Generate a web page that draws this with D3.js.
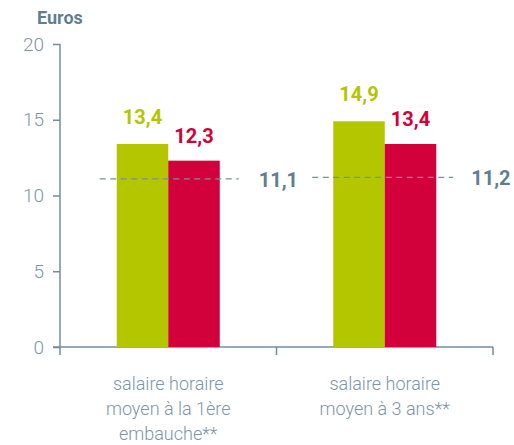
<!DOCTYPE html>
<html>
<head>
<meta charset="utf-8">
<script src="https://cdn.jsdelivr.net/npm/d3@7"></script>
<style>
  body { margin: 0; background: #fff; }
  svg text { font-family: "Roboto", "Liberation Sans", sans-serif; }
</style>
</head>
<body>
<div id="chart"></div>
<script>
// chart values
var categories = ['salaire horaire moyen à la 1ère embauche**', 'salaire horaire moyen à 3 ans**'];
var catLines = [['salaire horaire', 'moyen à la 1ère', 'embauche**'], ['salaire horaire', 'moyen à 3 ans**']];
var series = ['s1', 's2'];
var valuesGreen = [13.4, 14.9];
var valuesRed = [12.3, 13.4];
var refValues = [11.1, 11.2];
var yTicks = [0, 5, 10, 15, 20];

var width = 514,
    height = 445,
    axisColor = '#6f8fa0',
    green = '#b3c600',
    red = '#d2003b';

var svg = d3.select('#chart').append('svg')
  .attr('width', width)
  .attr('height', height);

var x = d3.scaleBand().domain(categories).range([60, 493]).paddingInner(0).paddingOuter(0);
var xs = d3.scaleBand().domain(series).range([0, 103]);
var y = d3.scaleLinear().domain([0, 20]).range([347, 44]);

var fmt = (v) => String(v).replace('.', ',');

// y axis
var yAxis = svg.append('g').attr('transform', 'translate(60,0)')
  .call(d3.axisLeft(y).tickValues(yTicks).tickSize(7).tickPadding(9));
yAxis.select('.domain').remove();
yAxis.selectAll('line').attr('stroke', axisColor).attr('stroke-width', 1.5);
yAxis.selectAll('text').attr('fill', '#7b96a6').attr('font-size', 19).attr('font-weight', 300)
  .attr('text-anchor', 'end').attr('dx', 0);
svg.append('line').attr('x1', 60).attr('x2', 60).attr('y1', y(20)).attr('y2', y(0))
  .attr('stroke', axisColor).attr('stroke-width', 1.5);

// x axis
svg.append('line').attr('x1', 53).attr('x2', 493).attr('y1', y(0)).attr('y2', y(0))
  .attr('stroke', axisColor).attr('stroke-width', 1.5);
var xEdges = [60].concat(categories.map(c => x(c) + x.bandwidth()));
svg.selectAll('.xtick').data(xEdges).enter().append('line')
  .attr('x1', d => d).attr('x2', d => d).attr('y1', y(0)).attr('y2', y(0) + 8)
  .attr('stroke', axisColor).attr('stroke-width', 1.5);

// title
svg.append('text').attr('x', 37).attr('y', 24).text('Euros')
  .attr('font-weight', 'bold').attr('font-size', 18).attr('fill', '#5f7f91');

var groups = svg.selectAll('.grp').data(categories).enter().append('g')
  .attr('class', 'grp')
  .attr('transform', d => `translate(${x(d) + (x.bandwidth() - 103) / 2},0)`);

// bars
groups.append('rect')
  .attr('x', xs('s1')).attr('width', xs.bandwidth())
  .attr('y', (d, i) => y(valuesGreen[i])).attr('height', (d, i) => y(0) - y(valuesGreen[i]))
  .attr('fill', green);
groups.append('rect')
  .attr('x', xs('s2')).attr('width', xs.bandwidth())
  .attr('y', (d, i) => y(valuesRed[i])).attr('height', (d, i) => y(0) - y(valuesRed[i]))
  .attr('fill', red);

// reference dashed lines (drawn over the bars)
groups.append('line')
  .attr('x1', (d, i) => i === 0 ? -17 : -21)
  .attr('x2', (d, i) => i === 0 ? 122 : 120)
  .attr('y1', (d, i) => y(refValues[i])).attr('y2', (d, i) => y(refValues[i]))
  .attr('stroke', '#7890a0').attr('stroke-width', 1.3).attr('stroke-dasharray', '6,4.5');

// value labels
groups.append('text')
  .attr('x', xs('s1') + xs.bandwidth() / 2).attr('y', (d, i) => y(valuesGreen[i]) - 20)
  .attr('text-anchor', 'middle').attr('font-weight', 'bold').attr('font-size', 20)
  .attr('fill', green).text((d, i) => fmt(valuesGreen[i]));
groups.append('text')
  .attr('x', xs('s2') + xs.bandwidth() / 2).attr('y', (d, i) => y(valuesRed[i]) - 18)
  .attr('text-anchor', 'middle').attr('font-weight', 'bold').attr('font-size', 20)
  .attr('fill', red).text((d, i) => fmt(valuesRed[i]));
groups.append('text')
  .attr('x', (d, i) => i === 0 ? 142 : 138).attr('y', (d, i) => y(refValues[i]) + 8)
  .attr('font-weight', 'bold').attr('font-size', 20)
  .attr('fill', '#5f7f91').text((d, i) => fmt(refValues[i]));

// category labels
var catText = svg.selectAll('.cat').data(categories).enter().append('text')
  .attr('class', 'cat')
  .attr('text-anchor', 'middle').attr('font-size', 18).attr('font-weight', 300).attr('fill', '#7b96a6');
catText.each(function(d, i) {
  d3.select(this).selectAll('tspan').data(catLines[i]).enter().append('tspan')
    .attr('x', x(d) + x.bandwidth() / 2)
    .attr('y', (t, j) => 390 + j * 25)
    .text(t => t);
});
</script>
</body>
</html>
